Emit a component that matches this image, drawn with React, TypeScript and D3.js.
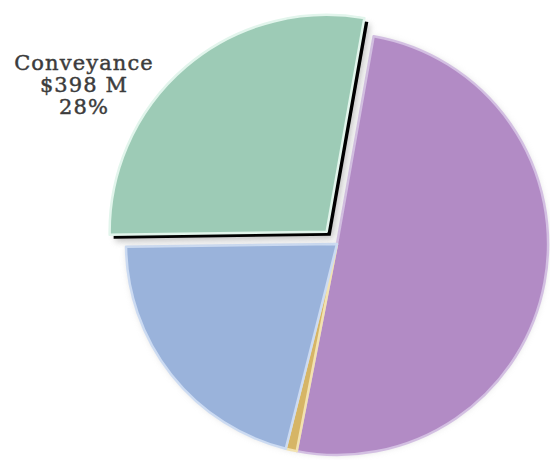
import React from "react";
import * as d3 from "d3";

const categories = ["Treatment", "Other", "Storage", "Conveyance"];
const valuesM = [715, 12, 297, 398];
const colors = ["#B28BC5", "#D6B566", "#9AB3DB", "#9DCBB6"];
const edgeColors = ["#D3BFE2", "#F2E2B0", "#CCDBF2", "#E2F5EC"];
const explodedCategory = "Conveyance";
const labelLines = ["Conveyance", "$398 M", "28%"];

export default function App() {
  const width = 550;
  const height = 460;
  const cx = 337;
  const cy = 244;
  const r = 211;
  const rExploded = 217;
  const startDeg = 10;

  const pie = d3
    .pie<number>()
    .sort(null)
    .value((d) => d)
    .startAngle((startDeg * Math.PI) / 180)
    .endAngle(((startDeg + 360) * Math.PI) / 180);
  const arcs = pie(valuesM);
  const arc = d3.arc<d3.PieArcDatum<number>>().innerRadius(0).outerRadius(r);
  const arcBig = d3.arc<d3.PieArcDatum<number>>().innerRadius(0).outerRadius(rExploded);

  const explode = 16;

  return (
    <svg width={width} height={height} style={{ position: "absolute", left: 0, top: 0 }}>
      <defs>
        <filter id="soft" x="-20%" y="-20%" width="140%" height="140%">
          <feGaussianBlur stdDeviation="3" />
        </filter>
      </defs>
      <g transform={`translate(${cx},${cy})`}>
        {arcs.map((a, i) =>
          categories[i] === explodedCategory ? null : (
            <path key={"h" + i} d={arc(a) || ""} fill="#bbb" opacity={0.5} filter="url(#soft)" />
          )
        )}
        {arcs.map((a, i) =>
          categories[i] === explodedCategory ? null : (
            <path key={i} d={arc(a) || ""} fill={colors[i]} stroke={edgeColors[i]} strokeWidth={2.5} strokeLinejoin="round" />
          )
        )}
        {arcs.map((a, i) => {
          if (categories[i] !== explodedCategory) return null;
          const mid = (a.startAngle + a.endAngle) / 2;
          const dx = Math.sin(mid) * explode;
          const dy = -Math.cos(mid) * explode;
          const d = arcBig(a) || "";
          return (
            <g key={"e" + i} transform={`translate(${dx},${dy})`}>
              <path d={d} transform="translate(6,7)" fill="#999" opacity={0.6} filter="url(#soft)" />
              <path d={d} transform="translate(4,4)" fill="#000" />
              <path d={d} fill={colors[i]} stroke={edgeColors[i]} strokeWidth={2.5} strokeLinejoin="round" />
            </g>
          );
        })}
      </g>
      <g
        fontFamily="'DejaVu Serif', Georgia, serif"
        fontSize={21}
        fill="#3c3c3c"
        stroke="#3c3c3c"
        strokeWidth={0.45}
        letterSpacing={1.1}
        textAnchor="middle"
      >
        {labelLines.map((t, i) => (
          <text key={i} x={84} y={70 + i * 22}>
            {t}
          </text>
        ))}
      </g>
    </svg>
  );
}
